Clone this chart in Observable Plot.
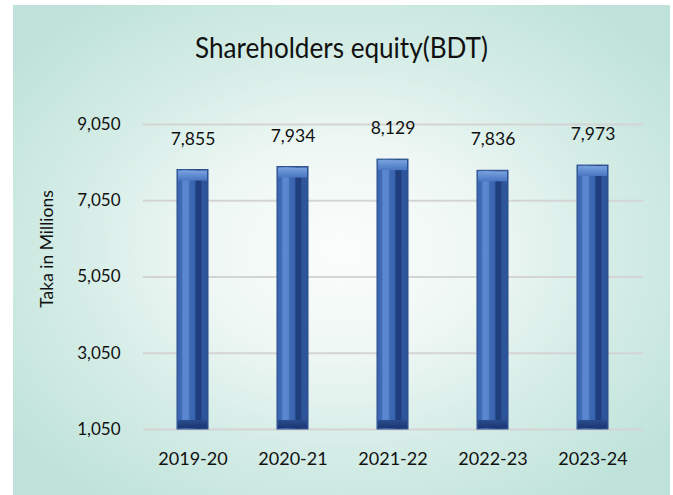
<!DOCTYPE html>
<html>
<head>
<meta charset="utf-8">
<script src="https://cdn.jsdelivr.net/npm/d3@7"></script>
<script src="https://cdn.jsdelivr.net/npm/@observablehq/plot@0.6"></script>
<style>
  html, body { margin: 0; padding: 0; background: #ffffff; }
  #wrap { position: relative; width: 673px; height: 495px; overflow: hidden; font-family: Lato, "Open Sans", sans-serif; }
  #bg { position: absolute; left: 13px; top: 5px; width: 657px; height: 490px;
        background: radial-gradient(ellipse 62% 62% at 50% 50%, #fbfdfc 0%, #eef7f4 35%, #d6ede7 65%, #bfe3da 100%); }
  #title { position: absolute; left: 13px; width: 657px; top: 29px; text-align: center; font-size: 29px; color: #111; transform: scaleX(0.9); }
  #ylab { position: absolute; left: 46px; top: 249px; transform: translate(-50%, -50%) rotate(-90deg); white-space: nowrap; font-size: 17.5px; color: #111; }
  #chart { position: absolute; left: 0; top: 0; }
</style>
</head>
<body>
<div id="wrap">
  <div id="bg"></div>
  <div id="title">Shareholders equity(BDT)</div>
  <div id="ylab">Taka in Millions</div>
  <div id="chart"></div>
</div>
<script>
const years = ["2019-20", "2020-21", "2021-22", "2022-23", "2023-24"];
const equity = [7855, 7934, 8129, 7836, 7973];
const yTicks = [1050, 3050, 5050, 7050, 9050];

const data = years.map((y, i) => ({year: y, value: equity[i]}));
const fmt = d3.format(",");

const plot = Plot.plot({
  width: 673,
  height: 495,
  marginLeft: 143,
  marginRight: 30,
  marginTop: 124,
  marginBottom: 66,
  style: {background: "transparent", fontFamily: "Lato, 'Open Sans', sans-serif", color: "#111"},
  x: {domain: years, paddingInner: 0.69, paddingOuter: 0.345, label: null},
  y: {domain: [1050, 9050], label: null},
  marks: [
    Plot.ruleY(yTicks, {stroke: "#d4d4d4", strokeWidth: 2}),
    Plot.axisY({ticks: yTicks, tickSize: 0, tickPadding: 23, tickFormat: fmt, fontSize: 17, label: null}),
    Plot.axisX({tickSize: 0, tickPadding: 23, fontSize: 18, label: null}),
    Plot.barY(data, {x: "year", y1: 1050, y2: "value", fill: "url(#barGrad)", stroke: "#2b4d8e", strokeWidth: 1}),
    Plot.barY(data, {x: "year", y1: "value", y2: "value", insetTop: 1, insetBottom: -11, insetLeft: 1, insetRight: 1, fill: "url(#topGrad)"}),
    Plot.barY(data, {x: "year", y1: 1050, y2: 1050, insetTop: -9, insetBottom: 1, insetLeft: 1, insetRight: 1, fill: "url(#botGrad)"}),
    Plot.text(data, {x: "year", y: "value", text: d => fmt(d.value), dy: -31, fontSize: 17.5, fill: "#111"})
  ]
});

const svg = d3.select(plot);
const defs = svg.insert("defs", ":first-child");
const g1 = defs.append("linearGradient").attr("id", "barGrad").attr("x1", 0).attr("x2", 1).attr("y1", 0).attr("y2", 0);
[[0, "#3a64ae"], [0.14, "#3f6bb6"], [0.2, "#5b88d0"], [0.36, "#5887ce"], [0.42, "#3d68b3"], [0.56, "#3b65b0"], [0.62, "#1f3e7c"], [0.76, "#213f7e"], [0.82, "#2f569d"], [1, "#2d5398"]]
  .forEach(([o, c]) => g1.append("stop").attr("offset", o).attr("stop-color", c));
const g2 = defs.append("linearGradient").attr("id", "topGrad").attr("x1", 0).attr("x2", 0).attr("y1", 0).attr("y2", 1);
[[0, "#7aa2dd"], [0.5, "#5f8bd1"], [1, "#4a76c0"]].forEach(([o, c]) => g2.append("stop").attr("offset", o).attr("stop-color", c));
const g3 = defs.append("linearGradient").attr("id", "botGrad").attr("x1", 0).attr("x2", 0).attr("y1", 0).attr("y2", 1);
[[0, "#2a4d8f"], [1, "#1c3670"]].forEach(([o, c]) => g3.append("stop").attr("offset", o).attr("stop-color", c));

document.getElementById("chart").appendChild(plot);
</script>
</body>
</html>
